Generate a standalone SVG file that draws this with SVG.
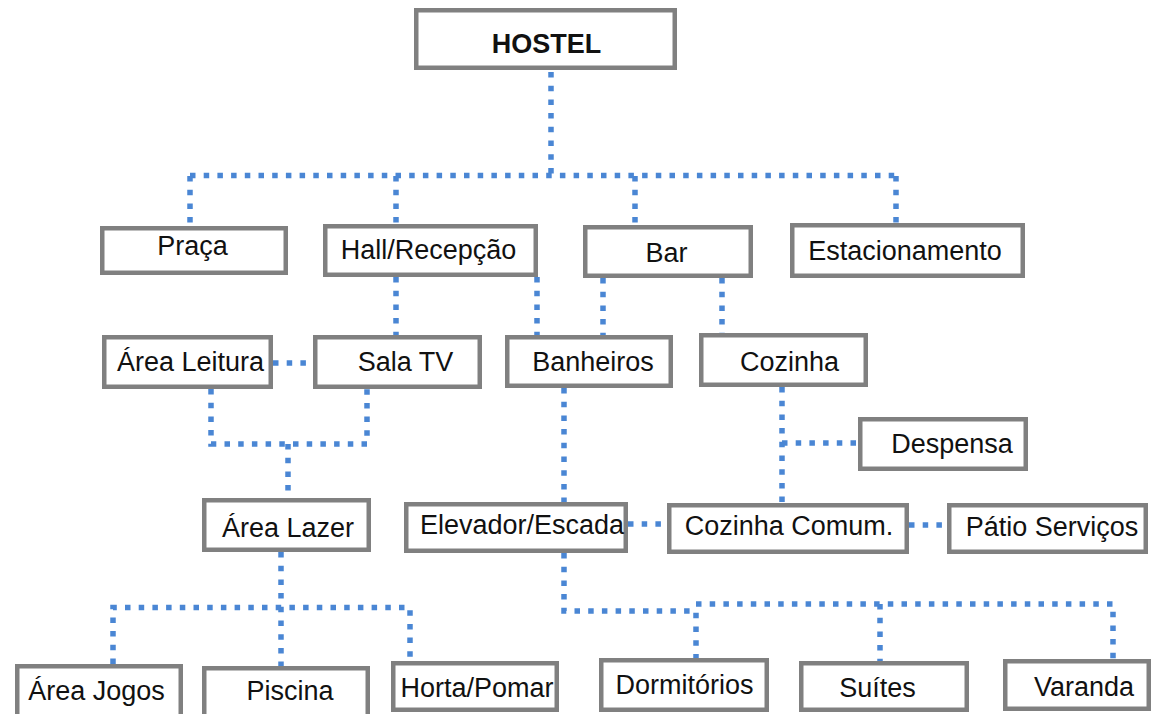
<svg xmlns="http://www.w3.org/2000/svg" width="1153" height="714" viewBox="0 0 1153 714">
<style>
.box{fill:#ffffff;stroke:#808080;stroke-width:4.5}
.t{font-family:"Liberation Sans",Arial,sans-serif;font-size:27px;fill:#111111;text-anchor:middle}
.b{font-weight:bold}
.c{fill:none;stroke:#4a86d4;stroke-width:5.5;stroke-dasharray:5.5 8.2}
</style>
<rect width="1153" height="714" fill="#ffffff"/>
<g id="connectors">
<path class="c" d="M551,72 V175"/>
<path class="c" d="M190,175.5 H896"/>
<path class="c" d="M190,176 V226"/>
<path class="c" d="M396,176 V224"/>
<path class="c" d="M635,176 V225"/>
<path class="c" d="M896,176 V223"/>
<path class="c" d="M396,277 V335"/>
<path class="c" d="M537,277 V335"/>
<path class="c" d="M603,278 V335"/>
<path class="c" d="M722,278 V333"/>
<path class="c" d="M273,363 H313"/>
<path class="c" d="M211,389 V444 H367 V389"/>
<path class="c" d="M288,444 V498"/>
<path class="c" d="M564,388 V502"/>
<path class="c" d="M782,387 V503"/>
<path class="c" d="M782,443 H858"/>
<path class="c" d="M628,524 H667"/>
<path class="c" d="M909,525 H947"/>
<path class="c" d="M281,552 V666"/>
<path class="c" d="M113,664 V607.5 H410 V661"/>
<path class="c" d="M564,553 V611 H696 V658"/>
<path class="c" d="M696,604 H1113 V659"/>
<path class="c" d="M880,604 V661"/>
</g>
<g id="hostel"><rect class="box" x="416.25" y="10.25" width="258.5" height="57.5"/><text class="t b" x="546.5" y="53">HOSTEL</text></g>
<g id="praca"><rect class="box" x="102.25" y="228.25" width="183.5" height="44.5"/><text class="t" x="192.5" y="255">Praça</text></g>
<g id="hall"><rect class="box" x="325.25" y="226.25" width="210.5" height="48.5"/><text class="t" x="428.5" y="259">Hall/Recepção</text></g>
<g id="bar"><rect class="box" x="585.25" y="227.25" width="165.5" height="48.5"/><text class="t" x="666.5" y="262">Bar</text></g>
<g id="estacionamento"><rect class="box" x="792.25" y="225.25" width="230.5" height="50.5"/><text class="t" x="905" y="260">Estacionamento</text></g>
<g id="area-leitura"><rect class="box" x="104.25" y="337.25" width="166.5" height="49.5"/><text class="t" x="190.5" y="371">Área Leitura</text></g>
<g id="sala-tv"><rect class="box" x="315.25" y="337.25" width="164.5" height="49.5"/><text class="t" x="405.5" y="371">Sala TV</text></g>
<g id="banheiros"><rect class="box" x="507.25" y="337.25" width="163.5" height="48.5"/><text class="t" x="593" y="371">Banheiros</text></g>
<g id="cozinha"><rect class="box" x="701.25" y="335.25" width="164.5" height="49.5"/><text class="t" x="789.5" y="371">Cozinha</text></g>
<g id="despensa"><rect class="box" x="860.25" y="419.25" width="165.5" height="49.5"/><text class="t" x="952" y="453">Despensa</text></g>
<g id="area-lazer"><rect class="box" x="204.25" y="500.25" width="164.5" height="49.5"/><text class="t" x="288" y="537">Área Lazer</text></g>
<g id="elevador"><rect class="box" x="406.25" y="504.25" width="219.5" height="46.5"/><text class="t" x="522" y="534">Elevador/Escada</text></g>
<g id="cozinha-comum"><rect class="box" x="669.25" y="505.25" width="237.5" height="46.5"/><text class="t" x="789" y="535">Cozinha Comum.</text></g>
<g id="patio"><rect class="box" x="949.25" y="505.25" width="196.5" height="46.5"/><text class="t" x="1052" y="536">Pátio Serviços</text></g>
<g id="area-jogos"><rect class="box" x="17.25" y="666.25" width="163.5" height="60"/><text class="t" x="96.5" y="700">Área Jogos</text></g>
<g id="piscina"><rect class="box" x="204.25" y="668.25" width="163.5" height="60"/><text class="t" x="290" y="700">Piscina</text></g>
<g id="horta"><rect class="box" x="393.25" y="663.25" width="163.5" height="46.5"/><text class="t" x="477" y="697">Horta/Pomar</text></g>
<g id="dormitorios"><rect class="box" x="601.25" y="660.25" width="165.5" height="49.5"/><text class="t" x="684.5" y="694">Dormitórios</text></g>
<g id="suites"><rect class="box" x="801.25" y="663.25" width="165.5" height="46.5"/><text class="t" x="877.5" y="697">Suítes</text></g>
<g id="varanda"><rect class="box" x="1005.25" y="661.25" width="143.5" height="47.5"/><text class="t" x="1084" y="696">Varanda</text></g>
</svg>
